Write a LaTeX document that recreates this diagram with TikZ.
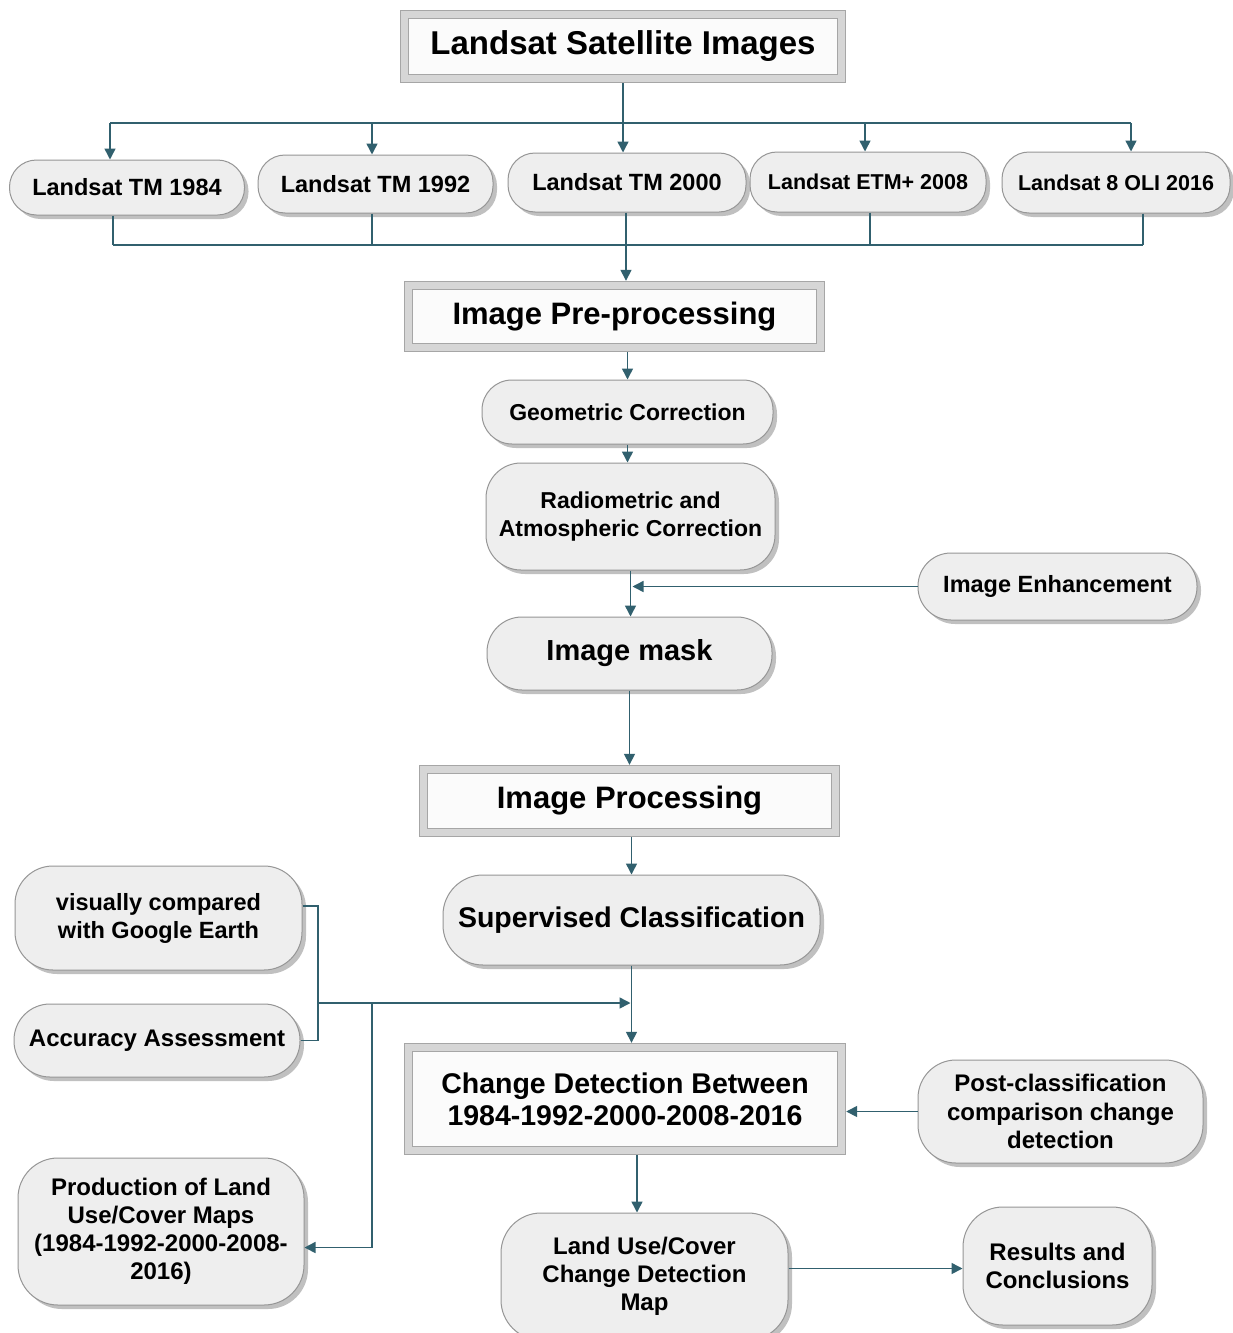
\documentclass[tikz,border=0pt]{standalone}
\usepackage{fontspec}
\setmainfont{Liberation Sans}
\usetikzlibrary{arrows.meta,shadows}
\definecolor{lnc}{RGB}{49,96,110}
\definecolor{boxfill}{RGB}{238,238,238}
\definecolor{boxline}{RGB}{150,150,150}
\newcommand{\fsz}[2]{\bfseries\fontsize{#1}{#2}\selectfont}
\tikzset{
  base/.style={align=center, inner sep=0pt, text=black},
  sz/.style 2 args={minimum width=#1pt, minimum height=#2pt},
  pill/.style={base, rectangle, rounded corners=#1, fill=boxfill, draw=boxline, line width=1pt,
    drop shadow={shadow xshift=4pt, shadow yshift=-4pt, opacity=0.35, fill=black!70}},
  pill/.default=27pt,
  bevel/.style={base, rectangle, fill=gray!3, draw=gray!70, double=gray!32, double distance=7pt, line width=0.8pt,
    drop shadow={shadow xshift=4pt, shadow yshift=-4pt, opacity=0.3, fill=black!70}},
  conn/.style={draw=lnc, line width=1.5pt},
  arr/.style={conn, -{Triangle[width=11pt,length=11pt]}},
}
\begin{document}
\begin{tikzpicture}[x=1pt,y=-1pt]
\useasboundingbox (0,0) rectangle (1232,1333);
\fill[white] (0,0) rectangle (1232,1333);

% title
\node[bevel, sz={437}{64}, font=\fsz{33}{38}] (title) at (623,46.5) {Landsat Satellite Images};

% landsat pills
\node[pill, sz={235}{55}, font=\fsz{23.5}{28}] (l84) at (127,187.5) {Landsat TM 1984};
\node[pill, sz={235}{58}, font=\fsz{23.5}{28}] (l92) at (375.5,184) {Landsat TM 1992};
\node[pill, sz={238}{59}, font=\fsz{23.5}{28}] (l00) at (627,182.5) {Landsat TM 2000};
\node[pill, sz={236}{60}, font=\fsz{21.5}{26}] (l08) at (868,182) {Landsat ETM+ 2008};
\node[pill, sz={228}{61}, font=\fsz{21.5}{26}] (l16) at (1116,182.5) {Landsat 8 OLI 2016};

% preprocessing
\node[bevel, sz={412}{62}, font=\fsz{31}{36}] (pre) at (614.5,316.5) {Image Pre-processing};
\node[pill=30pt, sz={291}{64}, font=\fsz{23}{28}] (geo) at (627.5,412) {Geometric Correction};
\node[pill=35pt, sz={289}{107}, font=\fsz{23}{28}] (rad) at (630.5,516.5) {Radiometric and\\Atmospheric Correction};
\node[pill=33pt, sz={279}{67}, font=\fsz{23.5}{28}] (enh) at (1057.5,586.5) {Image Enhancement};
\node[pill=35pt, sz={285}{73}, font=\fsz{29}{34}] (mask) at (629.5,653.5) {Image mask};

% processing
\node[bevel, sz={412}{63}, font=\fsz{31}{36}] (proc) at (629.5,801) {Image Processing};
\node[pill=40pt, sz={377}{90}, font=\fsz{28.5}{34}] (sup) at (631.5,920) {Supervised Classification};
\node[pill=38pt, sz={287}{104}, font=\fsz{23.5}{28}] (vis) at (158.5,918) {visually compared\\with Google Earth};
\node[pill=36pt, sz={286}{73}, font=\fsz{24}{28}] (acc) at (157,1040.5) {Accuracy Assessment};

% change detection
\node[bevel, sz={433}{103}, font=\fsz{28.5}{32}] (cd) at (625,1099) {Change Detection Between\\1984-1992-2000-2008-2016};
\node[pill=38pt, sz={285}{103}, font=\fsz{24}{28.5}] (post) at (1060.5,1111.5) {Post-classification\\comparison change\\detection};
\node[pill=40pt, sz={286}{147}, font=\fsz{24}{28}] (prod) at (161,1231.5) {Production of Land\\Use/Cover Maps\\(1984-1992-2000-2008-\\2016)};
\node[pill=40pt, sz={287}{127}, font=\fsz{24}{28}] (lu) at (644.5,1276.5) {Land Use/Cover\\Change Detection\\Map};
\node[pill=40pt, sz={189}{118}, font=\fsz{24}{28}] (res) at (1057.5,1266) {Results and\\Conclusions};

% connectors: top bus
\coordinate (bus1) at (623,123);
\draw[conn] ([yshift=-4.3pt]title.south) -- (bus1);
\draw[conn] ([xshift=-17pt]bus1 -| l84.north) -- ([xshift=15pt]bus1 -| l16.north);
\foreach \n/\dx in {l84/-17,l92/-3.5,l00/-4,l08/-3,l16/15}
  \draw[arr] ([xshift=\dx pt]bus1 -| \n.north) -- ([xshift=\dx pt]\n.north);

% bottom bus
\coordinate (bus2) at (626,245);
\foreach \n/\dx in {l84/-14,l92/-3.5,l00/-1,l08/2,l16/27}
  \draw[conn] ([xshift=\dx pt]\n.south) -- ([xshift=\dx pt]bus2 -| \n.south);
\draw[conn] ([xshift=-14pt]bus2 -| l84.south) -- ([xshift=27pt]bus2 -| l16.south);
\draw[arr] (bus2) -- ([yshift=4.3pt]bus2 |- pre.north);

% chain
\draw[arr] ([yshift=-4.3pt]pre.south -| geo.north) -- (geo.north);
\draw[arr] (geo.south) -- (geo.south |- rad.north);
\draw[arr] (rad.south) -- (rad.south |- mask.north);
\draw[arr] (enh.west) -- ([xshift=2pt]enh.west -| rad.south);
\draw[arr] (mask.south) -- ([yshift=4.3pt]mask.south |- proc.north);
\draw[arr] ([yshift=-4.3pt]proc.south -| sup.north) -- (sup.north);
\draw[arr] (sup.south) -- ([yshift=4.3pt]sup.south |- cd.north);

% left side joins
\coordinate (jx) at (318,1003);
\draw[conn] ([yshift=12pt]vis.east) -- ([yshift=12pt]vis.east -| jx) -- (acc.east -| jx) -- (acc.east);
\draw[arr] (jx) -- ([xshift=-1pt]jx -| sup.south);
\coordinate (jy) at (372,1003);
\draw[arr] (jy) -- ([yshift=-16pt]jy |- prod.east) -- ([yshift=-16pt]prod.east);

% right / bottom
\draw[arr] (post.west) -- ([xshift=4.3pt]post.west -| cd.east);
\draw[arr] ([xshift=-7.5pt,yshift=-4.3pt]cd.south -| lu.north) -- ([xshift=-7.5pt]lu.north);
\draw[arr] ([yshift=8pt]lu.east) -- ([yshift=8pt]lu.east -| res.west);
\end{tikzpicture}
\end{document}
